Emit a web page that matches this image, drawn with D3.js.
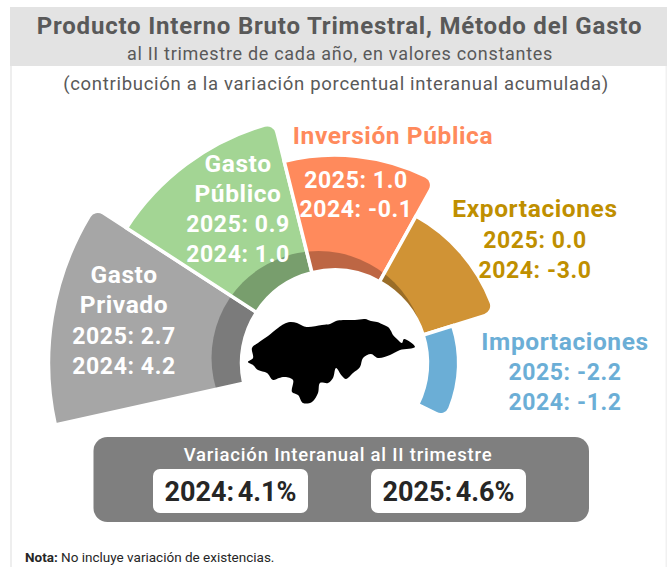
<!DOCTYPE html>
<html><head><meta charset="utf-8">
<script src="https://cdn.jsdelivr.net/npm/d3@7/dist/d3.min.js"></script>
<style>
html,body{margin:0;padding:0;background:#fff}
svg{display:block}
text{font-family:Roboto,sans-serif;text-anchor:middle;dominant-baseline:central}
</style></head><body>
<svg id="c" width="667" height="567"></svg>
<script>
const categories = ["Gasto Privado","Gasto Público","Inversión Pública","Exportaciones","Importaciones"];
const values2025 = ["2.7","0.9","1.0","0.0","-2.2"];
const values2024 = ["4.2","1.0","-0.1","-3.0","-1.2"];
const totalYears = ["2024","2025"];
const totalValues = ["4.1%","4.6%"];
const titleText = "Producto Interno Bruto Trimestral, Método del Gasto";
const subtitleText = "al II trimestre de cada año, en valores constantes";
const noteText = "contribución a la variación porcentual interanual acumulada";
const boxTitle = "Variación Interanual al II trimestre";
// Silhouette of Honduras (decorative), traced outline
const mapOutline = [[248,362],[253,358],[252,348],[258,343],[268,336],[278,328],[284,324],[290,322],[297,323],[303,326],[308,327],[322,325],[330,324],[336,321],[343,320],[355,320],[365,319],[371,321],[377,322],[384,325],[388,327],[391,331],[393,335],[398,340],[402,343],[404,339],[415,347],[400,350],[390,355],[378,358],[371,354],[363,358],[360,367],[353,373],[346,379],[342,376],[336,368],[333,378],[328,383],[320,383],[318,393],[312,402],[303,403],[298,395],[292,392],[293,380],[285,377],[279,378],[273,380],[267,373],[258,370],[253,365]];

const svg = d3.select("#c");
const cx = 334.5, cy = 363, inner = 93, gapColor = "#fff";
const toRad = d => d*Math.PI/180;
const rad = d3.scaleOrdinal(categories,[286,248,208,168,124]);
const angleStart = d3.scaleOrdinal(categories,[-102.5,-57,-14,29,72.5].map(toRad));
const angleEnd = d3.scaleOrdinal(categories,[-57,-14,29,72.5,116.5].map(toRad));
const color = d3.scaleOrdinal(categories,["#a6a6a6","#a3d594","#ff8a5c","#d09335","#6baed6"]);
const labelColor = d3.scaleOrdinal(categories,["#fff","#fff","#ff8a5c","#bf8f00","#6baed6"]);

// Background
svg.append("rect").attr("x",10).attr("y",7).attr("width",657).attr("height",59).attr("fill","#e3e3e3");
svg.append("rect").attr("x",10).attr("y",66).attr("width",2).attr("height",501).attr("fill","#eeeeee");
svg.append("rect").attr("x",665.5).attr("y",66).attr("width",1.5).attr("height",501).attr("fill","#f1f1f1");

svg.append("text").attr("x",339.5).attr("y",26).attr("font-size",24).attr("font-weight",700).attr("letter-spacing",0.8).attr("fill","#595959").text(titleText);
svg.append("text").attr("x",340).attr("y",53).attr("font-size",18).attr("letter-spacing",0.7).attr("fill","#595959").text(subtitleText);
svg.append("text").attr("x",336).attr("y",84).attr("font-size",18.5).attr("letter-spacing",0.7).attr("fill","#595959").text("("+noteText+")");

// One-corner-rounded wedge
function wedge(cat){
  const a0 = angleStart(cat), a1 = angleEnd(cat), R = rad(cat), c = 10;
  const p = d3.path();
  const pt = (r,a)=>[cx+r*Math.sin(a),cy-r*Math.cos(a)];
  const ca = a1-Math.asin(c/(R-c));
  p.moveTo(...pt(inner,a0));
  p.lineTo(...pt(R,a0));
  p.arc(cx,cy,R,a0-Math.PI/2,ca-Math.PI/2,false);
  const [ax,ay]=pt(R-c,ca);
  p.arc(ax,ay,c,ca-Math.PI/2,a1,false);
  p.lineTo(...pt(inner,a1));
  p.arc(cx,cy,inner,a1-Math.PI/2,a0-Math.PI/2,true);
  p.closePath();
  return p.toString();
}
const defs = svg.append("defs");
categories.forEach((d,i)=>defs.append("clipPath").attr("id","w"+i).append("path").attr("d",wedge(d)));
const g = svg.selectAll("g.w").data(categories).join("g").attr("class","w");
g.append("path").attr("d",wedge).attr("fill",color);
g.append("circle").attr("cx",318.5).attr("cy",358).attr("r",107).attr("fill","#000").attr("fill-opacity",0.26).attr("clip-path",(d,i)=>`url(#w${i})`);
g.append("path").attr("d",wedge).attr("fill","none").attr("stroke",gapColor).attr("stroke-width",3.5);

// Map
svg.append("path").attr("d",d3.line().curve(d3.curveCatmullRomClosed.alpha(0.5))(mapOutline)).attr("fill","#000");

// Labels
const layout = [
 {x:124,ys:[274,304,336,366],names:["Gasto","Privado"]},
 {x:238,ys:[163,193,224,254],names:["Gasto","Público"]},
 {x:356,ys:[180,209],names:[],head:[393,135]},
 {x:535,ys:[240,270],names:[],head:[535,208]},
 {x:565,ys:[372,402],names:[],head:[565,341]}
];
categories.forEach((cat,i)=>{
  const L = layout[i], col = labelColor(cat);
  const lines = [...L.names, `2025: ${values2025[i]}`, `2024: ${values2024[i]}`];
  const valColor = i===2 ? "#fff" : col;
  lines.forEach((t,j)=>{
    const isName = j < L.names.length;
    svg.append("text").attr("x",L.x).attr("y",L.ys[j]).attr("font-size",isName?24.5:23).attr("font-weight",700).attr("fill",valColor).attr("letter-spacing",0.6).text(t);
  });
  if(L.head) svg.append("text").attr("x",L.head[0]).attr("y",L.head[1]).attr("font-size",24.5).attr("font-weight",700).attr("fill",col).attr("letter-spacing",0.6).text(cat);
});

// Totals box
svg.append("rect").attr("x",93.5).attr("y",437).attr("width",495.5).attr("height",85).attr("rx",14).attr("fill","#7f7f7f");
svg.append("text").attr("x",338).attr("y",455).attr("font-size",18.5).attr("font-weight",500).attr("letter-spacing",0.8).attr("fill","#fff").text(boxTitle);
const pill = d3.scaleOrdinal(totalYears,[153,371]);
totalYears.forEach((y,i)=>{
  svg.append("rect").attr("x",pill(y)).attr("y",469).attr("width",155).attr("height",44).attr("rx",7).attr("fill","#fff");
  svg.append("text").attr("x",pill(y)+77.5).attr("y",492).attr("font-size",27).attr("font-weight",700).attr("word-spacing",-3).attr("fill","#262626").text(`${y}: ${totalValues[i]}`);
});

// Footnote
const nt = svg.append("text").attr("x",25).attr("y",557).attr("font-size",13.5).attr("fill","#262626").style("text-anchor","start");
nt.append("tspan").attr("font-weight",700).text("Nota:");
nt.append("tspan").text(" No incluye variación de existencias.");
</script></body></html>
